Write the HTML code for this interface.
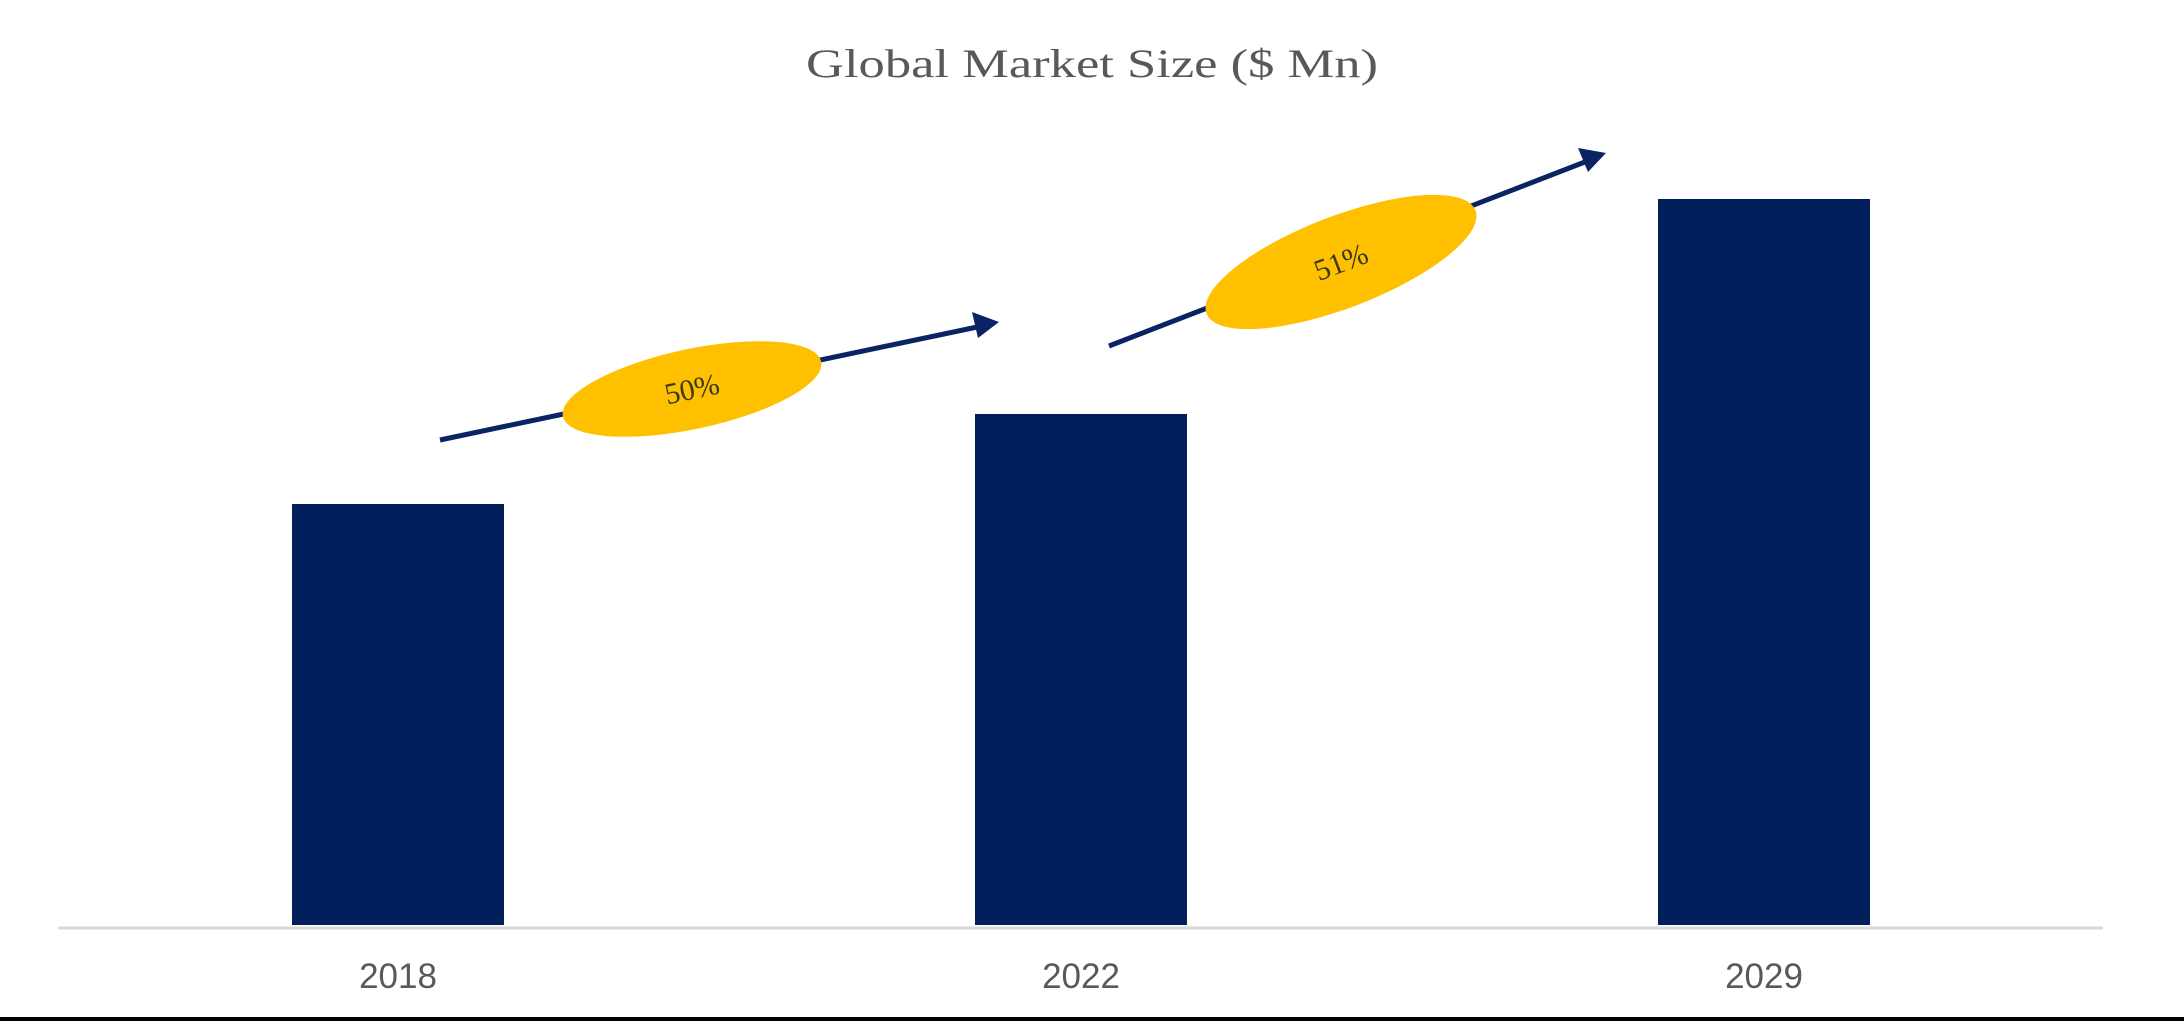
<!DOCTYPE html>
<html><head><meta charset="utf-8"><style>
html,body{margin:0;padding:0;background:#fff;}
svg{display:block;}
</style></head><body>
<svg id="chart" width="2184" height="1021" viewBox="0 0 2184 1021" xmlns="http://www.w3.org/2000/svg">
<rect width="2184" height="1021" fill="#fff"/>
<text x="1092" y="77" text-anchor="middle" font-family="Liberation Serif, serif" font-size="40" fill="#595959" textLength="572" lengthAdjust="spacingAndGlyphs">Global Market Size ($ Mn)</text>
<g id="bars"></g>
<line x1="58" y1="928" x2="2103" y2="928" stroke="#d9d9d9" stroke-width="3"/>
<g id="labels"></g>
<g>
<line x1="440" y1="440" x2="982" y2="326" stroke="#0a2463" stroke-width="5"/>
<polygon points="999,322 972,312 978,338" fill="#0a2463"/>
<ellipse cx="692" cy="389" rx="132" ry="40" transform="rotate(-12 692 389)" fill="#ffc000"/>
<text x="692" y="399" text-anchor="middle" font-family="Liberation Serif, serif" font-size="30" fill="#3a3a1a" transform="rotate(-12 692 389)">50%</text>
</g>
<g>
<line x1="1109" y1="346" x2="1590" y2="160" stroke="#0a2463" stroke-width="5"/>
<polygon points="1606,153 1578,148 1588,172" fill="#0a2463"/>
<ellipse cx="1341" cy="262" rx="144" ry="46" transform="rotate(-21 1341 262)" fill="#ffc000"/>
<text x="1341" y="272" text-anchor="middle" font-family="Liberation Serif, serif" font-size="30" fill="#3a3a1a" transform="rotate(-21 1341 262)">51%</text>
</g>
<rect x="0" y="1017" width="2184" height="4" fill="#000"/>
</svg>
<script>
const categories = ["2018", "2022", "2029"];
const values = [42.1, 51.1, 72.6];
const baseline = 925, pxPerUnit = 10;
const x0 = 292, step = 683, barW = 212;
function xPos(i){ return x0 + i*step; }
function yPos(v){ return baseline - v*pxPerUnit; }
const ns = "http://www.w3.org/2000/svg";
const bars = document.getElementById('bars');
const labels = document.getElementById('labels');
categories.forEach((c,i)=>{
  const r = document.createElementNS(ns,'rect');
  
  
  r.setAttribute('x', xPos(i));
  r.setAttribute('y', yPos(values[i]));
  r.setAttribute('width', barW);
  r.setAttribute('height', baseline - yPos(values[i]));
  r.setAttribute('fill', '#001f5b');
  bars.appendChild(r);
  const t = document.createElementNS(ns,'text');
  
  
  t.setAttribute('x', xPos(i) + barW/2);
  t.setAttribute('y', 988);
  t.setAttribute('text-anchor', 'middle');
  t.setAttribute('font-family', 'Liberation Sans, sans-serif');
  t.setAttribute('font-size', '35');
  t.setAttribute('fill', '#595959');
  t.textContent = c;
  labels.appendChild(t);
});
</script>
</body></html>
